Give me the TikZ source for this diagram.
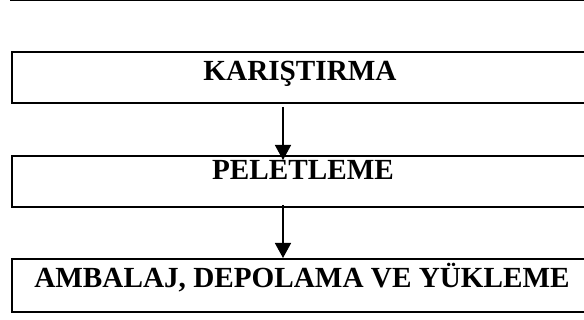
\documentclass[tikz,border=0pt]{standalone}
\usepackage{fontspec}
\setmainfont{Liberation Serif}
\usetikzlibrary{arrows.meta}
\begin{document}
\begin{tikzpicture}[x=1pt,y=-1pt,
  boxline/.style={draw=black,line width=1.6pt},
  label/.style={font=\fontsize{29.2}{31}\selectfont\bfseries,inner sep=0pt,anchor=base},
  arr/.style={line width=1.6pt,-{Triangle[length=15pt,width=16pt]}}]
\useasboundingbox (0,0) rectangle (584,320);
\draw[line width=1pt] (10,0.6) -- (590,0.6);
\draw[boxline] (600,52) -| (12,103) -- (600,103);
\draw[boxline] (600,156) -| (12,207) -- (600,207);
\draw[boxline] (600,259) -| (12,312) -- (600,312);
\node[label] (t1) at (300,80.5) {KARIŞTIRMA};
\node[label] (t2) at (303,180) {PELETLEME};
\node[label] (t3) at (302,287.5) {AMBALAJ, DEPOLAMA VE YÜKLEME};
\coordinate (a1s) at (283,107);
\coordinate (a1e) at (283,160);
\coordinate (a2s) at (283,205);
\coordinate (a2e) at (283,258);
\draw[arr] (a1s) -- (a1e);
\draw[arr] (a2s) -- (a2e);
\end{tikzpicture}
\end{document}
